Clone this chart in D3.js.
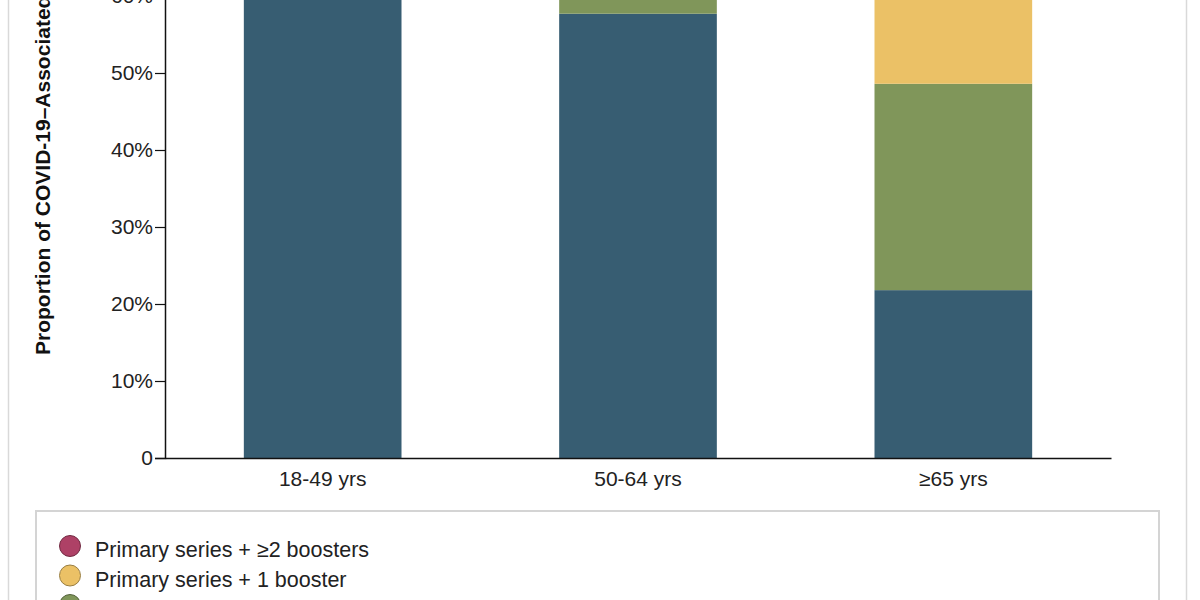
<!DOCTYPE html>
<html>
<head>
<meta charset="utf-8">
<script src="https://cdn.jsdelivr.net/npm/d3@7"></script>
<style>
  html, body { margin: 0; padding: 0; background: #fff; overflow: hidden; }
  svg { display: block; font-family: Arial, "Liberation Sans", sans-serif; }
</style>
</head>
<body>
<svg id="chart" width="1200" height="600"></svg>
<script>
// Data
const ageGroups = ["18-49 yrs", "50-64 yrs", "\u226565 yrs"];
const seriesKeys = ["unvax", "primary", "booster1", "booster2"];
const seriesLabels = ["Unvaccinated", "Primary series only", "Primary series + 1 booster", "Primary series + \u22652 boosters"];
const seriesColors = ["#375d72", "#80965a", "#ebc166", "#ae4166"];
// proportions per age group (upper parts above 60% are estimated, outside the photo)
const unvax    = [0.68, 0.577, 0.218];
const primary  = [0.21, 0.25, 0.268];
const booster1 = [0.09, 0.14, 0.30];
const booster2 = [0.02, 0.033, 0.214];
const yTicks = [0, 0.1, 0.2, 0.3, 0.4, 0.5, 0.6, 0.7, 0.8, 0.9, 1.0];

const FONT = 21;
const svg = d3.select("#chart");

// outer frame
svg.append("line").attr("x1", 8.5).attr("x2", 8.5).attr("y1", 0).attr("y2", 600)
    .attr("stroke", "#d9d9d9").attr("stroke-width", 1.5);
svg.append("line").attr("x1", 1186.5).attr("x2", 1186.5).attr("y1", 0).attr("y2", 600)
    .attr("stroke", "#d9d9d9").attr("stroke-width", 1.5);

// Scales
const x = d3.scaleBand().domain(ageGroups).range([165, 1111])
    .paddingInner(0.5).paddingOuter(0.25);
const y = d3.scaleLinear().domain([0, 1]).range([458, -312]);

// stacked data
const table = ageGroups.map((g, i) => ({
    group: g, unvax: unvax[i], primary: primary[i], booster1: booster1[i], booster2: booster2[i]
}));
const stacked = d3.stack().keys(seriesKeys)(table);

svg.append("g")
    .selectAll("g")
    .data(stacked)
    .join("g")
    .attr("fill", (d, i) => seriesColors[i])
    .selectAll("rect")
    .data(d => d)
    .join("rect")
    .attr("x", d => x(d.data.group))
    .attr("width", x.bandwidth())
    .attr("y", d => y(d[1]))
    .attr("height", d => y(d[0]) - y(d[1]));

// Axes
const yAxis = svg.append("g")
    .attr("transform", "translate(165,0)")
    .call(d3.axisLeft(y).tickValues(yTicks).tickSize(10).tickPadding(2)
        .tickFormat(d => d === 0 ? "0" : Math.round(d * 100) + "%"));
yAxis.select(".domain").attr("stroke", "#111").attr("stroke-width", 1.5);
yAxis.selectAll(".tick line").attr("stroke", "#111").attr("stroke-width", 1.2);
yAxis.selectAll(".tick text").attr("font-size", FONT).attr("fill", "#222")
    .attr("font-family", "Arial, 'Liberation Sans', sans-serif");

const xAxis = svg.append("g")
    .attr("transform", "translate(0,458)")
    .call(d3.axisBottom(x).tickSize(0).tickPadding(13));
xAxis.select(".domain").attr("stroke", "#111").attr("stroke-width", 1.5);
xAxis.selectAll(".tick text").attr("font-size", FONT).attr("fill", "#222")
    .attr("font-family", "Arial, 'Liberation Sans', sans-serif");

// Y title
svg.append("text")
    .attr("transform", "translate(50,355) rotate(-90)")
    .attr("text-anchor", "start")
    .attr("font-size", FONT)
    .attr("font-weight", "bold")
    .attr("fill", "#111")
    .text("Proportion of COVID-19\u2013Associated Hospitalizations");

// Legend
svg.append("rect")
    .attr("x", 36).attr("y", 511).attr("width", 1123).attr("height", 140)
    .attr("fill", "#fff").attr("stroke", "#d4d4d4").attr("stroke-width", 2);

const legendOrder = [3, 2, 1, 0];
const legend = svg.append("g")
    .selectAll("g")
    .data(legendOrder)
    .join("g")
    .attr("transform", (d, i) => `translate(70,${546 + i * 29.5})`);
legend.append("circle")
    .attr("r", 10.5)
    .attr("fill", d => seriesColors[d])
    .attr("stroke", d => d3.color(seriesColors[d]).darker(1.2))
    .attr("stroke-width", 1);
legend.append("text")
    .attr("x", 25).attr("y", 11)
    .attr("font-size", 21.5)
    .attr("fill", "#222")
    .text(d => seriesLabels[d]);
</script>
</body>
</html>
